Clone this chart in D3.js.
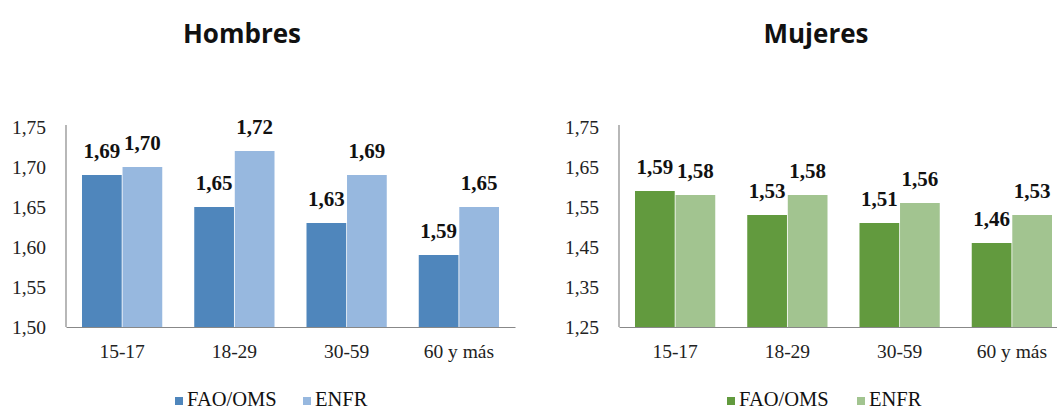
<!DOCTYPE html>
<html><head><meta charset="utf-8">
<script src="https://cdn.jsdelivr.net/npm/d3@7"></script>
<style>body{margin:0;background:#fff}svg{display:block}</style>
</head><body><svg id="c" width="1057" height="409"></svg>
<script>
const categories = ["15-17", "18-29", "30-59", "60 y más"];
const seriesNames = ["FAO/OMS", "ENFR"];
const hombresFAO = [1.69, 1.65, 1.63, 1.59];
const hombresENFR = [1.70, 1.72, 1.69, 1.65];
const mujeresFAO = [1.59, 1.53, 1.51, 1.46];
const mujeresENFR = [1.58, 1.58, 1.56, 1.53];
const hombresTicks = [1.50, 1.55, 1.60, 1.65, 1.70, 1.75];
const mujeresTicks = [1.25, 1.35, 1.45, 1.55, 1.65, 1.75];

const loc = d3.formatLocale({decimal: ",", thousands: ".", grouping: [3], currency: ["", ""]});
const fmt = loc.format(".2f");
const svg = d3.select("#c");
const serif = "'Liberation Serif','Times New Roman',serif";

const panels = [
  {title: "Hombres", titleX: 242, x0: 66, x1: 515, dom: [1.50, 1.75], ticks: hombresTicks,
   data: [hombresFAO, hombresENFR], colors: ["#4F86BC", "#97B8DF"],
   legend: [175, 303]},
  {title: "Mujeres", titleX: 816, x0: 619, x1: 1068, dom: [1.25, 1.75], ticks: mujeresTicks,
   data: [mujeresFAO, mujeresENFR], colors: ["#629A3E", "#A2C490"],
   legend: [727, 857]}
];

panels.forEach(p => {
  const g = svg.append("g");
  const x = d3.scaleBand().domain(categories).range([p.x0, p.x1]).paddingInner(0.285).paddingOuter(0.1425);
  const xs = d3.scaleBand().domain(seriesNames).range([0, x.bandwidth()]).paddingInner(0.02);
  const y = d3.scaleLinear().domain(p.dom).range([327, 127]);

  g.append("text").attr("x", p.titleX).attr("y", 43).attr("text-anchor", "middle")
    .attr("font-family", "'Open Sans',sans-serif").attr("font-weight", "bold").attr("font-size", 26)
    .attr("fill", "#111").text(p.title);

  // y axis
  const ya = d3.axisLeft(y).tickValues(p.ticks).tickFormat(fmt).tickSize(0).tickPadding(20);
  const yg = g.append("g").attr("transform", `translate(${p.x0},0)`).call(ya);
  yg.select(".domain").remove();
  yg.selectAll("text").attr("font-family", serif).attr("font-size", 19.5).attr("fill", "#222");

  // bars
  seriesNames.forEach((s, si) => {
    g.append("g").selectAll("rect").data(p.data[si]).join("rect")
      .attr("x", (d, i) => x(categories[i]) + xs(s))
      .attr("y", d => y(d))
      .attr("width", xs.bandwidth())
      .attr("height", d => y(p.dom[0]) - y(d))
      .attr("fill", p.colors[si]);
    g.append("g").selectAll("text").data(p.data[si]).join("text")
      .attr("x", (d, i) => x(categories[i]) + xs(s) + xs.bandwidth() / 2)
      .attr("y", d => y(d) - 17)
      .attr("text-anchor", "middle").attr("font-family", serif).attr("font-weight", "bold")
      .attr("font-size", 21).attr("fill", "#111").text(d => fmt(d));
  });

  // axis lines
  g.append("line").attr("x1", p.x0).attr("x2", p.x0).attr("y1", y(p.dom[1]) - 2).attr("y2", y(p.dom[0]))
    .attr("stroke", "#888").attr("stroke-width", 1.2);
  const xa = d3.axisBottom(x).tickSize(0).tickPadding(17);
  const xg = g.append("g").attr("transform", `translate(0,${y(p.dom[0])})`).call(xa);
  xg.select(".domain").attr("stroke", "#888").attr("stroke-width", 1.2);
  xg.selectAll("text").attr("font-family", serif).attr("font-size", 19.5).attr("fill", "#222");

  // legend
  seriesNames.forEach((s, si) => {
    const lx = p.legend[si];
    g.append("rect").attr("x", lx).attr("y", 397).attr("width", 8).attr("height", 8).attr("fill", p.colors[si]);
    g.append("text").attr("x", lx + 12).attr("y", 406).attr("font-family", serif).attr("font-size", 20.5)
      .attr("fill", "#111").text(s);
  });
});
</script></body></html>
